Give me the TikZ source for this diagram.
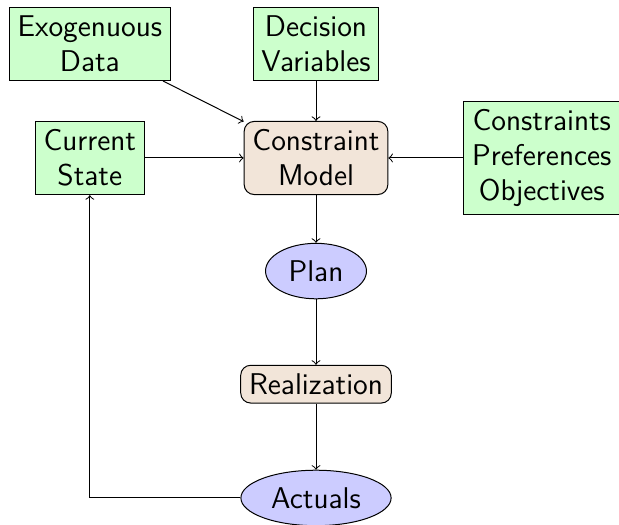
\documentclass[tikz,border=0pt]{standalone}
\usetikzlibrary{shapes.geometric}
\begin{document}
\begin{tikzpicture}
\tikzstyle{input}=[draw, rectangle, fill=green!20, align=center, font=\large\sffamily]
\tikzstyle{process}=[draw, rectangle, rounded corners, fill=brown!20, align=center, font=\large\sffamily]
\tikzstyle{result}=[draw, ellipse, fill=blue!20, minimum height=0.78cm, font=\large\sffamily]
\tikzstyle{line}=[draw, ->]

\useasboundingbox (-4.443,2.221) rectangle (4.260,-5.160);

% Define nodes
\node[input] (exo) at (-3.18,1.60) {Exogenuous\\Data};
\node[input] (dec) at (0,1.60) {Decision\\Variables};
\node[input] (cur) at (-3.18,0) {Current\\State};
\node[process] (model) at (0,0) {Constraint\\Model};
\node[input, minimum width=2.17cm] (cons) at (3.175,0) {Constraints\\Preferences\\Objectives};
\node[result] (plan) at (0,-1.59) {Plan};
\node[process] (real) at (0,-3.18) {Realization};
\node[result] (act) at (0,-4.78) {Actuals};

% Draw connections
\draw[line] (exo) -- (model);
\draw[line] (dec) -- (model);
\draw[line] (cur) -- (model);
\draw[line] (cons) -- (model);
\draw[line] (model) -- (plan);
\draw[line] (plan) -- (real);
\draw[line] (real) -- (act);
\draw[line] (act.west) -| (cur.south);
\end{tikzpicture}
\end{document}
